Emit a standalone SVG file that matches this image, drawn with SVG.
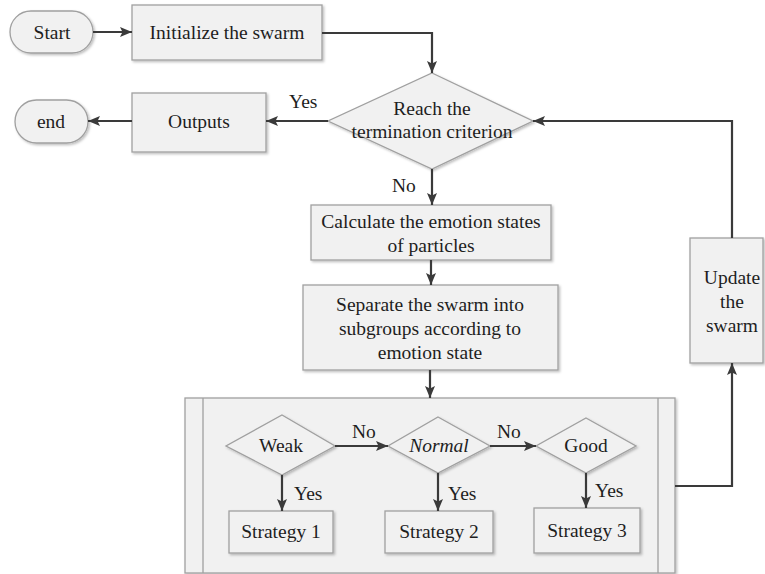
<svg xmlns="http://www.w3.org/2000/svg" width="765" height="574" viewBox="0 0 765 574">
<defs>
<marker id="ah" viewBox="0 0 12 10" refX="12" refY="5" markerWidth="12" markerHeight="10" orient="auto" markerUnits="userSpaceOnUse">
<path d="M0,0 L12,5 L0,10 L2.5,5 z" fill="#3a3a3a"/>
</marker>
<filter id="sh" x="-10%" y="-10%" width="130%" height="130%">
<feDropShadow dx="1.5" dy="1.5" stdDeviation="1" flood-color="#000" flood-opacity="0.25"/>
</filter>
</defs>
<style>
.n{fill:#f1f1f1;stroke:#a0a0a0;stroke-width:1.3;filter:url(#sh)}
.t{font-family:"Liberation Serif","Times New Roman",serif;font-size:19.5px;fill:#1e1e1e;text-anchor:middle}
.l{font-family:"Liberation Serif","Times New Roman",serif;font-size:19.5px;fill:#1e1e1e}
.c{fill:none;stroke:#3a3a3a;stroke-width:2.2}
.c path{marker-end:url(#ah)}
</style>
<rect width="765" height="574" fill="#fff"/>

<g id="start"><rect class="n" x="10" y="11" width="83" height="42" rx="21"/><text class="t" x="52" y="39">Start</text></g>
<g id="init"><rect class="n" x="132" y="5" width="190" height="55"/><text class="t" x="227" y="39">Initialize the swarm</text></g>
<g id="reach"><polygon class="n" points="432,73 533,121 432,169 328,121"/><text class="t" x="432" y="115">Reach the</text><text class="t" x="432" y="138">termination criterion</text></g>
<g id="outputs"><rect class="n" x="132" y="93" width="134" height="59"/><text class="t" x="199" y="128">Outputs</text></g>
<g id="end"><rect class="n" x="15" y="100" width="73" height="43" rx="21.5"/><text class="t" x="51" y="128">end</text></g>
<g id="calc"><rect class="n" x="311" y="205" width="240" height="55"/><text class="t" x="431" y="228">Calculate the emotion states</text><text class="t" x="431" y="252">of particles</text></g>
<g id="separate"><rect class="n" x="303" y="285" width="255" height="85"/><text class="t" x="430" y="311">Separate the swarm into</text><text class="t" x="430" y="335">subgroups according to</text><text class="t" x="430" y="359">emotion state</text></g>
<g id="update"><rect class="n" x="690" y="238" width="73" height="125"/><text class="t" x="732" y="284">Update</text><text class="t" x="732" y="308">the</text><text class="t" x="732" y="332">swarm</text></g>
<g id="container"><rect class="n" x="185" y="398" width="490" height="175"/><line x1="203" y1="398" x2="203" y2="573" stroke="#a0a0a0" stroke-width="1.3"/><line x1="658" y1="398" x2="658" y2="573" stroke="#a0a0a0" stroke-width="1.3"/></g>
<g id="weak"><polygon class="n" points="282,415 335,446 282,475 226,446"/><text class="t" x="281" y="452">Weak</text></g>
<g id="normal"><polygon class="n" points="438,417 490,446 438,473 388,446"/><text class="t" x="439" y="452" font-style="italic">Normal</text></g>
<g id="good"><polygon class="n" points="586,418 636,446 586,473 536,446"/><text class="t" x="586" y="452">Good</text></g>
<g id="s1"><rect class="n" x="229" y="511" width="104" height="42"/><text class="t" x="281" y="538">Strategy 1</text></g>
<g id="s2"><rect class="n" x="385" y="511" width="108" height="42"/><text class="t" x="439" y="538">Strategy 2</text></g>
<g id="s3"><rect class="n" x="534" y="508" width="106" height="45"/><text class="t" x="587" y="537">Strategy 3</text></g>

<g id="connectors" class="c">
<path d="M93,32 L132,32"/>
<path d="M322,33 L432,33 L432,73"/>
<path d="M328,121 L266,121"/>
<path d="M132,121 L88,121"/>
<path d="M432,169 L432,205"/>
<path d="M431,260 L431,285"/>
<path d="M430,370 L430,398"/>
<path d="M675,486 L732,486 L732,363"/>
<path d="M732,238 L732,121 L533,121"/>
<path d="M335,446 L388,446"/>
<path d="M490,446 L536,446"/>
<path d="M282,475 L282,511"/>
<path d="M438,473 L438,511"/>
<path d="M586,473 L586,508"/>
</g>
<g id="labels">
<text class="l" x="289" y="108">Yes</text>
<text class="l" x="392" y="192">No</text>
<text class="l" x="352" y="438">No</text>
<text class="l" x="497" y="438">No</text>
<text class="l" x="294" y="500">Yes</text>
<text class="l" x="448" y="500">Yes</text>
<text class="l" x="595" y="497">Yes</text>
</g>
</svg>
